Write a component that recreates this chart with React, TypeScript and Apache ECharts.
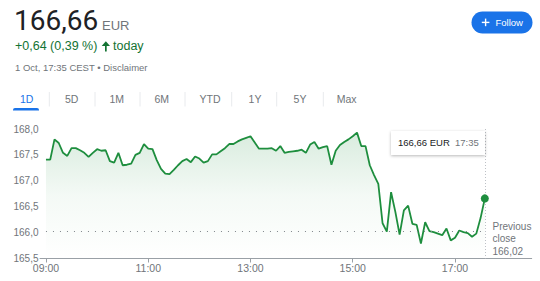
import React, { useEffect, useRef } from "react";
import * as echarts from "echarts";

const times = [
  "09:00", "09:05", "09:10", "09:15", "09:20", "09:25", "09:30", "09:35", "09:40", "09:45", "09:50", "09:55",
  "10:00", "10:05", "10:10", "10:15", "10:20", "10:25", "10:30", "10:35", "10:40", "10:45", "10:50", "10:55",
  "11:00", "11:05", "11:10", "11:15", "11:20", "11:25", "11:30", "11:35", "11:40", "11:45", "11:50", "11:55",
  "12:00", "12:05", "12:10", "12:15", "12:20", "12:25", "12:30", "12:35", "12:40", "12:45", "12:50", "12:55",
  "13:00", "13:05", "13:10", "13:15", "13:20", "13:25", "13:30", "13:35", "13:40", "13:45", "13:50", "13:55",
  "14:00", "14:05", "14:10", "14:15", "14:20", "14:25", "14:30", "14:35", "14:40", "14:45", "14:50", "14:55",
  "15:00", "15:05", "15:10", "15:15", "15:20", "15:25", "15:30", "15:35", "15:40", "15:45", "15:50", "15:55",
  "16:00", "16:05", "16:10", "16:15", "16:20", "16:25", "16:30", "16:35", "16:40", "16:45", "16:50", "16:55",
  "17:00", "17:05", "17:10", "17:15", "17:20", "17:25", "17:30", "17:35",
];

const prices = [
  167.41, 167.41, 167.8, 167.73, 167.54, 167.48, 167.63, 167.63, 167.59, 167.54, 167.46, 167.54,
  167.61, 167.58, 167.59, 167.38, 167.35, 167.54, 167.3, 167.31, 167.33, 167.5, 167.54, 167.71,
  167.62, 167.61, 167.4, 167.23, 167.14, 167.13, 167.21, 167.3, 167.38, 167.42, 167.36, 167.47,
  167.43, 167.35, 167.38, 167.51, 167.51, 167.57, 167.63, 167.71, 167.71, 167.76, 167.8, 167.83,
  167.86, 167.74, 167.62, 167.62, 167.62, 167.63, 167.58, 167.67, 167.54, 167.56, 167.57, 167.58,
  167.6, 167.54, 167.7, 167.75, 167.62, 167.65, 167.67, 167.31, 167.58, 167.69, 167.75, 167.8,
  167.86, 167.93, 167.67, 167.67, 167.3, 167.11, 166.94, 166.18, 166.02, 166.78, 166.4, 165.96,
  166.43, 166.52, 166.17, 166.15, 165.79, 166.2, 166.03, 166.01, 165.98, 165.95, 166.08, 165.85,
  165.9, 166.04, 166.01, 165.99, 165.92, 165.98, 166.28, 166.66,
];

const previousClose = 166.02;
const xTickTimes = ["09:00", "11:00", "13:00", "15:00", "17:00"];
const xRange = ["08:53", "18:30"];
const yRange = [165.5, 168.0];
const yInterval = 0.5;
const tabs = ["1D", "5D", "1M", "6M", "YTD", "1Y", "5Y", "Max"];
const priceText = "166,66";
const currency = "EUR";
const changeText = "+0,64 (0,39 %)";
const changeSuffix = "today";
const dateText = "1 Oct, 17:35 CEST • Disclaimer";
const tooltipTime = "17:35";

const FONT = "'Liberation Sans', Arial, sans-serif";
const GREEN = "#1e8e3e";
const GREEN_TEXT = "#137333";
const GRAY = "#70757a";
const BLUE = "#1a73e8";

const toMin = (s: string) => {
  const [h, m] = s.split(":").map(Number);
  return h * 60 + m;
};
const fmtTime = (m: number) => {
  const h = Math.floor(m / 60);
  const mm = Math.round(m % 60);
  return `${String(h).padStart(2, "0")}:${String(mm).padStart(2, "0")}`;
};
const fmtNum = (v: number, d: number) => v.toFixed(d).replace(".", ",");

export default function App() {
  const ref = useRef<HTMLDivElement>(null);

  useEffect(() => {
    if (!ref.current) return;
    const chart = echarts.init(ref.current, undefined, { renderer: "svg" });
    const data = times.map((t, i) => [toMin(t), prices[i]]);
    const last = data[data.length - 1];
    const first = data[0];
    const tickVals = xTickTimes.map(toMin);

    const tabCenters = [26.7, 71.7, 116.7, 161.7, 210, 255, 300, 346.7];
    const seps = [49.3, 95, 140, 185, 231.7, 276.7, 323.3];

    const graphics: any[] = [
      { type: "text", style: { text: priceText, x: 14, y: 20, font: "400 28px Roboto, Arial, sans-serif", fill: "#202124", verticalAlign: "middle" } },
      { type: "text", style: { text: currency, x: 102, y: 25, font: `13px ${FONT}`, fill: GRAY, verticalAlign: "middle" } },
      { type: "text", style: { text: changeText, x: 15, y: 46.2, font: `12.5px ${FONT}`, fill: GREEN_TEXT, verticalAlign: "middle" } },
      { type: "polygon", shape: { points: [[101.7, 46], [105.85, 41.3], [110, 46]] }, style: { fill: GREEN_TEXT } },
      { type: "rect", shape: { x: 105, y: 45, width: 1.7, height: 6.5 }, style: { fill: GREEN_TEXT } },
      { type: "text", style: { text: changeSuffix, x: 113, y: 46.2, font: `12.5px ${FONT}`, fill: GREEN_TEXT, verticalAlign: "middle" } },
      { type: "text", style: { text: dateText, x: 15, y: 67.5, font: `9.5px ${FONT}`, fill: GRAY, verticalAlign: "middle" } },
      // Follow button
      { type: "rect", shape: { x: 471.5, y: 11.5, width: 61, height: 22, r: 11 }, style: { fill: BLUE } },
      { type: "line", shape: { x1: 481.8, y1: 22.4, x2: 489.4, y2: 22.4 }, style: { stroke: "#fff", lineWidth: 1.4 } },
      { type: "line", shape: { x1: 485.6, y1: 18.6, x2: 485.6, y2: 26.2 }, style: { stroke: "#fff", lineWidth: 1.4 } },
      { type: "text", style: { text: "Follow", x: 495.5, y: 22.4, font: `500 9.5px ${FONT}`, fill: "#fff", verticalAlign: "middle" } },
      // tabs
      ...tabs.map((t, i) => ({
        type: "text",
        style: { text: t, x: tabCenters[i], y: 99, font: `10.5px ${FONT}`, fill: i === 0 ? BLUE : GRAY, align: "center", verticalAlign: "middle" },
      })),
      ...seps.map((x) => ({
        type: "line",
        shape: { x1: x, y1: 92, x2: x, y2: 106.5 },
        style: { stroke: "#e8eaed", lineWidth: 1 },
      })),
      { type: "rect", shape: { x: 13, y: 108, width: 26, height: 2.6, r: [2, 2, 0, 0] }, style: { fill: BLUE } },
      // tooltip box
      {
        type: "rect",
        shape: { x: 391, y: 131, width: 94, height: 24 },
        style: { fill: "#fff", shadowBlur: 3, shadowColor: "rgba(0,0,0,0.28)", shadowOffsetY: 1 },
        z: 100,
      },
      { type: "text", z: 101, style: { text: `${fmtNum(last[1], 2)} ${currency}`, x: 398, y: 142.6, font: `9.5px ${FONT}`, fill: "#202124", verticalAlign: "middle" } },
      { type: "text", z: 101, style: { text: tooltipTime, x: 455, y: 142.6, font: `9.5px ${FONT}`, fill: GRAY, verticalAlign: "middle" } },
      // previous close label
      { type: "text", style: { text: "Previous", x: 492.5, y: 226.3, font: `10px ${FONT}`, fill: GRAY, verticalAlign: "middle" } },
      { type: "text", style: { text: "close", x: 492.5, y: 238.8, font: `10px ${FONT}`, fill: GRAY, verticalAlign: "middle" } },
      { type: "text", style: { text: fmtNum(previousClose, 2), x: 492.5, y: 251.5, font: `10px ${FONT}`, fill: GRAY, verticalAlign: "middle" } },
    ];

    chart.setOption({
      animation: false,
      grid: { left: 40, right: 8.3, top: 129, bottom: 22.5, containLabel: false },
      xAxis: {
        type: "value",
        min: toMin(xRange[0]),
        max: toMin(xRange[1]),
        axisLine: { show: true, lineStyle: { color: "#9aa0a6", width: 1 } },
        axisTick: { show: true, customValues: tickVals, length: 4, lineStyle: { color: "#9aa0a6" } },
        axisLabel: {
          customValues: tickVals,
          formatter: (v: number) => fmtTime(v),
          fontSize: 10.5,
          fontFamily: FONT,
          color: GRAY,
          margin: 4,
        },
        splitLine: { show: false },
      },
      yAxis: {
        type: "value",
        min: yRange[0],
        max: yRange[1],
        interval: yInterval,
        axisLine: { show: false },
        axisTick: { show: false },
        splitLine: { show: false },
        axisLabel: {
          formatter: (v: number) => fmtNum(v, 1),
          fontSize: 10,
          fontFamily: FONT,
          color: GRAY,
          margin: 1.5,
        },
      },
      series: [
        {
          type: "line",
          data,
          showSymbol: false,
          symbol: "none",
          lineStyle: { color: GREEN, width: 1.8 },
          areaStyle: {
            origin: "start",
            color: new echarts.graphic.LinearGradient(0, 0, 0, 1, [
              { offset: 0, color: "rgba(30,142,62,0.24)" },
              { offset: 0.5, color: "rgba(30,142,62,0.07)" },
              { offset: 1, color: "rgba(30,142,62,0)" },
            ]),
          },
          markLine: {
            silent: true,
            symbol: "none",
            label: { show: false },
            data: [
              [
                { coord: [first[0], previousClose], lineStyle: { color: "#80868b", type: [1, 6], width: 1 } },
                { coord: [last[0], previousClose] },
              ],
              [
                { coord: [last[0], yRange[1]], lineStyle: { color: "#bdc1c6", type: [1, 2], width: 1 } },
                { coord: [last[0], yRange[0]] },
              ],
            ],
          },
          markPoint: {
            silent: true,
            symbol: "circle",
            symbolSize: 8,
            itemStyle: { color: GREEN },
            label: { show: false },
            data: [{ coord: last }],
          },
        },
      ],
      graphic: graphics,
    });

    return () => chart.dispose();
  }, []);

  return <div ref={ref} style={{ position: "absolute", left: 0, top: 0, width: 540, height: 281, background: "#fff" }} />;
}
